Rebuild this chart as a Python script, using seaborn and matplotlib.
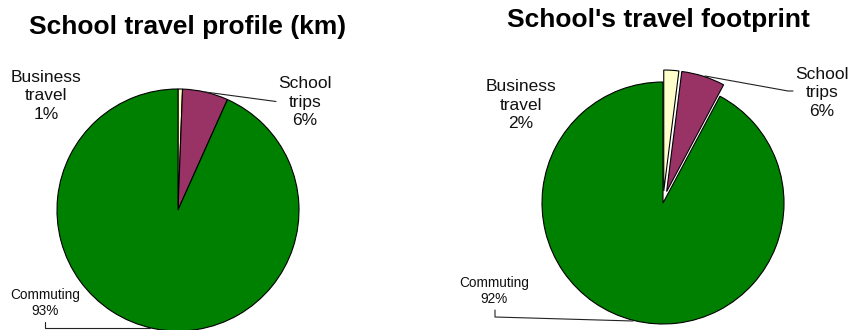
import matplotlib
matplotlib.use("Agg")
import matplotlib.pyplot as plt
import seaborn as sns

# Shares of travel by category (percent)
categories = ["Business travel", "School trips", "Commuting"]
label_text = ["Business\ntravel", "School\ntrips", "Commuting"]
profile_km = [0.6, 6.1, 93.3]
footprint = [2.0, 5.8, 92.2]
titles = ["School travel profile (km)", "School's travel footprint"]
slice_colors = ["#FFFFCC", "#993366", "#008000"]

sns.set_theme(style="white")
plt.rcParams["font.family"] = ["Liberation Sans", "DejaVu Sans"]

W, H = 851, 330
fig = plt.figure(figsize=(W / 100, H / 100), dpi=100)
ax = fig.add_axes([0, 0, 1, 1])


def Y(py):
    return H - py


def draw_pie(values, cx, cy, explode):
    ax.pie(values, colors=slice_colors, startangle=90, counterclock=False,
           center=(cx, Y(cy)), radius=121, explode=explode,
           wedgeprops=dict(edgecolor="black", linewidth=0.8))


def pct(v):
    return f"{v:.0f}%"


# Left chart: distance profile
draw_pie(profile_km, 178, 210, [0, 0, 0])
# Right chart: footprint with the two small slices pulled out
draw_pie(footprint, 663, 203, [12, 12, 0])

ax.set_xlim(0, W)
ax.set_ylim(0, H)
ax.set_aspect("equal")
ax.axis("off")

# Titles
ax.text(188, Y(27), titles[0], ha="center", va="center",
        fontsize=19, fontweight="bold", color="black")
ax.text(658, Y(20), titles[1], ha="center", va="center",
        fontsize=19, fontweight="bold", color="black")

big = dict(ha="center", va="center", fontsize=12.5, linespacing=1.3, color="#111111")
small = dict(ha="center", va="center", fontsize=9.8, linespacing=1.2, color="#111111")

# Left labels
ax.text(46, Y(96), f"{label_text[0]}\n{pct(profile_km[0])}", **big)
ax.text(305, Y(102), f"{label_text[1]}\n{pct(profile_km[1])}", **big)
ax.text(45, Y(303), f"{label_text[2]}\n{pct(profile_km[2])}", **small)

# Right labels
ax.text(521, Y(105), f"{label_text[0]}\n{pct(footprint[0])}", **big)
ax.text(822, Y(93), f"{label_text[1]}\n{pct(footprint[1])}", **big)
ax.text(494, Y(291), f"{label_text[2]}\n{pct(footprint[2])}", **small)

# Leader lines
lk = dict(color="#222222", linewidth=0.8)
ax.plot([276, 205], [Y(101.5), Y(92)], **lk)
ax.plot([45, 45, 150], [Y(322), Y(328), Y(328)], **lk)
ax.plot([793, 788, 705], [Y(91), Y(91), Y(76)], **lk)
ax.plot([495, 495, 633], [Y(310), Y(317), Y(321)], **lk)

fig.savefig("out.png", dpi=100, facecolor="white")
